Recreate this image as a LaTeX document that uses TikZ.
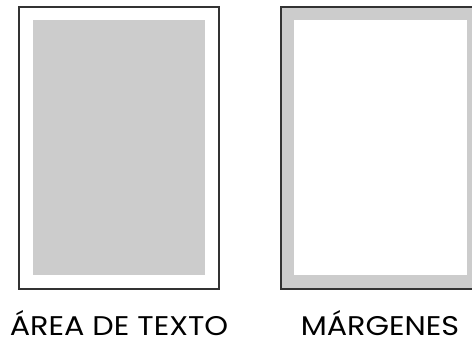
\documentclass[tikz,border=0pt]{standalone}
\usepackage{fontspec}
\newfontfamily\capfont[FakeStretch=1.12]{Poppins}
\definecolor{fillgray}{HTML}{CCCCCC}
\definecolor{edge}{HTML}{333333}
\tikzset{
  pageframe/.style={draw=edge, line width=1.5pt},
  caption/.style={anchor=base, inner sep=0pt, font=\capfont\fontsize{27}{27}\selectfont, text=black}
}
\begin{document}
\begin{tikzpicture}[x=1pt,y=-1pt]
\useasboundingbox (0,0) rectangle (472,341);
% left page
\path[fill=white, pageframe] (19,7) rectangle (219,289);
\fill[fillgray] (33,20) rectangle (205,275);
% right page
\path[fill=fillgray, pageframe] (281,7) rectangle (480,289);
\fill[white] (294,20) rectangle (467,275);
\node[caption] (t1) at (119,335.5) {ÁREA DE TEXTO};
\node[caption] (t2) at (380,335.5) {MÁRGENES};
\end{tikzpicture}
\end{document}
